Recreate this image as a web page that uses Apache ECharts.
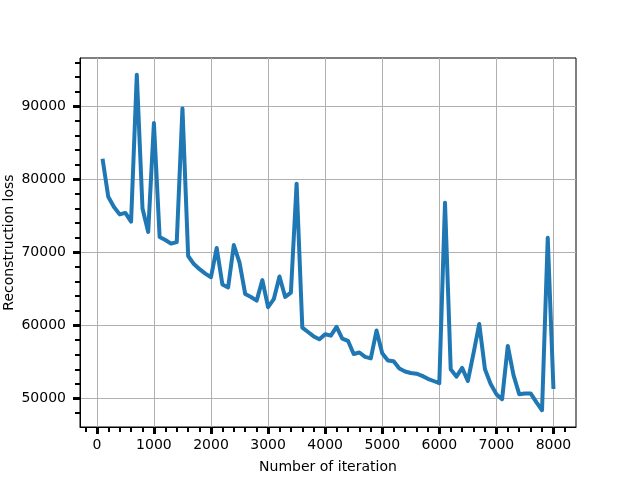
<!DOCTYPE html>
<html>
<head>
<meta charset="utf-8">
<script src="https://cdn.jsdelivr.net/npm/echarts@6/dist/echarts.min.js"></script>
<style>
  html, body { margin: 0; padding: 0; background: #fff; }
  #main { width: 640px; height: 480px; }
</style>
</head>
<body>
<div id="main"></div>
<script>
// iterations 100..8000, loss
var iterations = [
  100, 200, 300, 400, 500, 600, 700, 800, 900, 1000,
  1100, 1200, 1300, 1400, 1500, 1600, 1700, 1800, 1900, 2000,
  2100, 2200, 2300, 2400, 2500, 2600, 2700, 2800, 2900, 3000,
  3100, 3200, 3300, 3400, 3500, 3600, 3700, 3800, 3900, 4000,
  4100, 4200, 4300, 4400, 4500, 4600, 4700, 4800, 4900, 5000,
  5100, 5200, 5300, 5400, 5500, 5600, 5700, 5800, 5900, 6000,
  6100, 6200, 6300, 6400, 6500, 6600, 6700, 6800, 6900, 7000,
  7100, 7200, 7300, 7400, 7500, 7600, 7700, 7800, 7900, 8000
]
var loss = [
  82800, 77600, 76200, 75200, 75400, 74200, 94300, 76000, 72800, 87700,
  72100, 71700, 71200, 71400, 89700, 69500, 68400, 67700, 67100, 66600,
  70600, 65600, 65200, 71000, 68600, 64300, 63900, 63400, 66200, 62500,
  63600, 66700, 63900, 64500, 79400, 59700, 59100, 58500, 58100, 58800,
  58600, 59800, 58200, 57900, 56100, 56300, 55700, 55500, 59300, 56200,
  55200, 55100, 54100, 53700, 53500, 53400, 53100, 52700, 52400, 52100,
  76800, 54000, 53000, 54200, 52400, 56200, 60200, 54000, 52000, 50600,
  49900, 57200, 53200, 50600, 50700, 50700, 49500, 48400, 72000, 51300
]
var xMajor = [0, 1000, 2000, 3000, 4000, 5000, 6000, 7000, 8000]
var xMinor = [-200, 200, 400, 600, 800, 1200, 1400, 1600, 1800, 2200, 2400, 2600, 2800,
  3200, 3400, 3600, 3800, 4200, 4400, 4600, 4800, 5200, 5400, 5600, 5800,
  6200, 6400, 6600, 6800, 7200, 7400, 7600, 7800, 8200]
var yMajor = [50000, 60000, 70000, 80000, 90000]
var yMinor = [48000, 52000, 54000, 56000, 58000, 62000, 64000, 66000, 68000,
  72000, 74000, 76000, 78000, 82000, 84000, 86000, 88000, 92000, 94000, 96000]

var xMin = -295, xMax = 8395
var yMin = 46105, yMax = 96595
var font = 'DejaVu Sans'
var plain = function (v) { return String(v) }

var myChart = echarts.init(document.getElementById('main'))
var option = {
  animation: false,
  grid: {
    left: 80, right: 64, top: 58, bottom: 53,
    outerBoundsMode: 'none', containLabel: false,
    show: true, borderColor: '#000', borderWidth: 1, backgroundColor: 'transparent'
  },
  xAxis: [
    {
      type: 'value', min: xMin, max: xMax, position: 'bottom',
      name: 'Number of iteration', nameLocation: 'middle', nameGap: 33, nameMoveOverlap: false,
      nameTextStyle: { fontFamily: font, fontSize: 14, color: '#000' },
      axisLine: { show: true, onZero: false, lineStyle: { color: '#000', width: 1 } },
      axisTick: { show: true, customValues: xMajor, length: 7, lineStyle: { color: '#000', width: 3 } },
      axisLabel: { customValues: xMajor, formatter: plain, margin: 11, fontFamily: font, fontSize: 14, color: '#000' },
      splitLine: { show: true, lineStyle: { color: '#b0b0b0', width: 1 } }
    },
    {
      // minor ticks: placed on top side, pushed down onto the bottom edge
      type: 'value', min: xMin, max: xMax, position: 'top', offset: -369,
      axisLine: { show: false, onZero: false },
      axisTick: { show: true, inside: true, customValues: xMinor, length: 5, lineStyle: { color: '#000', width: 2 } },
      axisLabel: { show: false },
      splitLine: { show: false }
    }
  ],
  yAxis: [
    {
      type: 'value', min: yMin, max: yMax, position: 'left',
      name: 'Reconstruction loss', nameLocation: 'middle', nameGap: 64, nameMoveOverlap: false,
      nameTextStyle: { fontFamily: font, fontSize: 14, color: '#000' },
      axisLine: { show: true, onZero: false, lineStyle: { color: '#000', width: 1 } },
      axisTick: { show: true, customValues: yMajor, length: 7, lineStyle: { color: '#000', width: 3 } },
      axisLabel: { customValues: yMajor, formatter: plain, margin: 14, fontFamily: font, fontSize: 14, color: '#000' },
      splitLine: { show: true, lineStyle: { color: '#b0b0b0', width: 1 } }
    },
    {
      type: 'value', min: yMin, max: yMax, position: 'right', offset: -496,
      axisLine: { show: false, onZero: false },
      axisTick: { show: true, inside: true, customValues: yMinor, length: 5, lineStyle: { color: '#000', width: 2 } },
      axisLabel: { show: false },
      splitLine: { show: false }
    }
  ],
  series: [
    {
      type: 'line',
      data: iterations.map(function (x, i) { return [x, loss[i]] }),
      showSymbol: false,
      lineStyle: { color: '#1f77b4', width: 4, join: 'round' },
      itemStyle: { color: '#1f77b4' }
    }
  ]
}
myChart.setOption(option)
</script>
</body>
</html>
